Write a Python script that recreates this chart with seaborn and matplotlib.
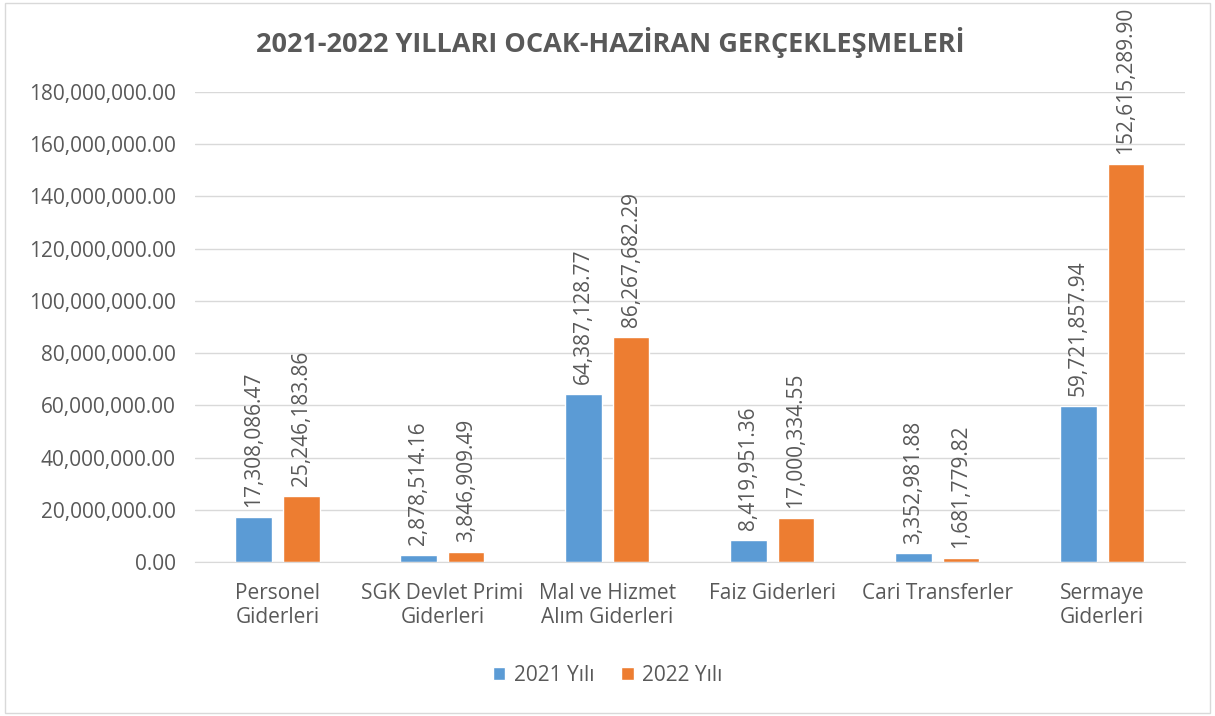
import matplotlib
matplotlib.use("Agg")
import matplotlib.pyplot as plt
import seaborn as sns
import pandas as pd
from matplotlib.patches import Rectangle
from matplotlib.ticker import FuncFormatter

categories = ["Personel\nGiderleri", "SGK Devlet Primi\nGiderleri", "Mal ve Hizmet\nAlım Giderleri",
              "Faiz Giderleri", "Cari Transferler", "Sermaye\nGiderleri"]
values_2021 = [17308086.47, 2878514.16, 64387128.77, 8419951.36, 3352981.88, 59721857.94]
values_2022 = [25246183.86, 3846909.49, 86267682.29, 17000334.55, 1681779.82, 152615289.90]
series = ["2021 Yılı", "2022 Yılı"]
colors = ["#5B9BD5", "#ED7D31"]

df = pd.DataFrame({
    "kategori": categories * 2,
    "deger": values_2021 + values_2022,
    "yil": [series[0]] * 6 + [series[1]] * 6,
})

sns.set_style("white")
plt.rcParams["font.family"] = ["Open Sans", "DejaVu Sans"]
text_color = "#595959"

fig = plt.figure(figsize=(12.15, 7.16), dpi=100)
ax = fig.add_axes([0.1605, 0.215, 0.8145, 0.6565])

sns.barplot(data=df, x="kategori", y="deger", hue="yil", palette=colors,
            width=0.576, gap=0.23, saturation=1, ax=ax, legend=True)

ax.set_ylim(0, 180000000)
ax.set_yticks(range(0, 180000001, 20000000))
ax.yaxis.set_major_formatter(FuncFormatter(lambda v, p: f"{v:,.2f}"))
ax.grid(axis="y", color="#D9D9D9", linewidth=1)
ax.set_axisbelow(True)
for s in ["left", "right", "top"]:
    ax.spines[s].set_visible(False)
ax.spines["bottom"].set_color("#D9D9D9")
ax.tick_params(axis="both", length=0, colors=text_color, labelsize=15)
ax.tick_params(axis="x", pad=15)
ax.tick_params(axis="y", pad=14)
ax.set_xlabel("")
ax.set_ylabel("")

for cont in ax.containers:
    for bar in cont:
        h = bar.get_height()
        ax.annotate(f"{h:,.2f}", (bar.get_x() + bar.get_width() / 2, h),
                    xytext=(0, 7), textcoords="offset points", rotation=90,
                    ha="center", va="bottom", fontsize=15, color=text_color,
                    annotation_clip=False)

handles, labels = ax.get_legend_handles_labels()
ax.legend(handles, labels, loc="center", bbox_to_anchor=(0.5, 0.057),
          bbox_transform=fig.transFigure, ncol=2, frameon=False, fontsize=15,
          labelcolor=text_color, handlelength=0.6, handleheight=0.6,
          columnspacing=1.3, handletextpad=0.4)

fig.text(0.502, 0.94, "2021-2022 YILLARI OCAK-HAZİRAN GERÇEKLEŞMELERİ",
         ha="center", va="center", fontsize=19.5, fontweight="bold", color=text_color)

fig.patches.append(Rectangle((0.004, 0.004), 0.992, 0.992, transform=fig.transFigure,
                             fill=False, edgecolor="#D9D9D9", linewidth=1))

fig.savefig("out.png", dpi=100)
